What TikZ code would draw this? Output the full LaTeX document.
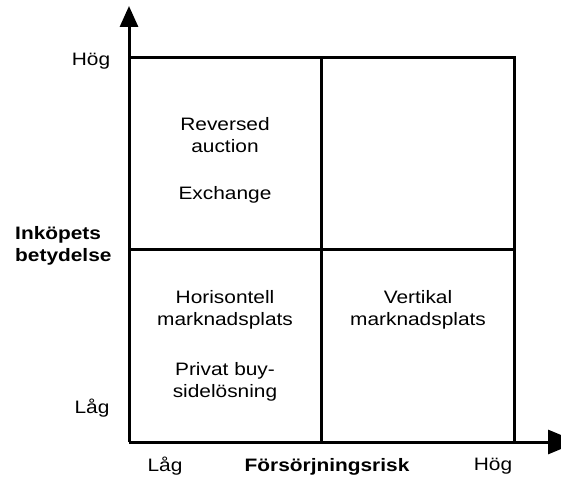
\documentclass[tikz,border=0pt]{standalone}
\usepackage{fontspec}
\setmainfont{Liberation Sans}[FakeStretch=1.16]
\usetikzlibrary{arrows.meta}
\begin{document}
\begin{tikzpicture}[x=1pt,y=-1pt,
  lbl/.style={inner sep=0pt,font=\fontsize{18}{22}\selectfont,align=center},
  blbl/.style={inner sep=0pt,font=\fontsize{18}{22}\selectfont\bfseries},
  grid/.style={line width=3pt},
  axis/.style={line width=3pt}]
\useasboundingbox (0,0) rectangle (561,486);
% corners
\coordinate (o) at (129,442);
\coordinate (ytip) at (129,6);
\coordinate (xtip) at (578,442);
\coordinate (tl) at (129,58);
\coordinate (tr) at (514,58);
\coordinate (br) at (514,442);
\coordinate (tm) at (321,58);
\coordinate (bm) at (321,442);
\coordinate (ml) at (129,249);
\coordinate (mr) at (514,249);
% grid
\draw[grid] (tl) -- (tr) -- (br);
\draw[grid] (tm) -- (bm);
\draw[grid] (ml) -- (mr);
% axes
\draw[axis,-{Triangle[length=21pt,width=18pt]}] (o) -- (ytip);
\draw[axis,-{Triangle[length=30pt,width=24pt]}] (o) -- (xtip);
% labels
\node[lbl] (yhi) at (91,61) {Hög};
\node[lbl] (ylo) at (92,408) {Låg};
\node[lbl] (xlo) at (165,466) {Låg};
\node[lbl] (xhi) at (493,466) {Hög};
\node[blbl] (xlab) at (327,467) {Försörjningsrisk};
\node[blbl,align=left,anchor=west] (ylab) at (15,246) {Inköpets\\betydelse};
% quadrant texts
\node[lbl] (q1) at (225,135) {Reversed\\auction};
\node[lbl] (q1b) at (225,195) {Exchange};
\node[lbl] (q3) at (225,310) {Horisontell\\marknadsplats};
\node[lbl] (q3b) at (225,382) {Privat buy-\\sidelösning};
\node[lbl] (q4) at (418,310) {Vertikal\\marknadsplats};
\end{tikzpicture}
\end{document}
